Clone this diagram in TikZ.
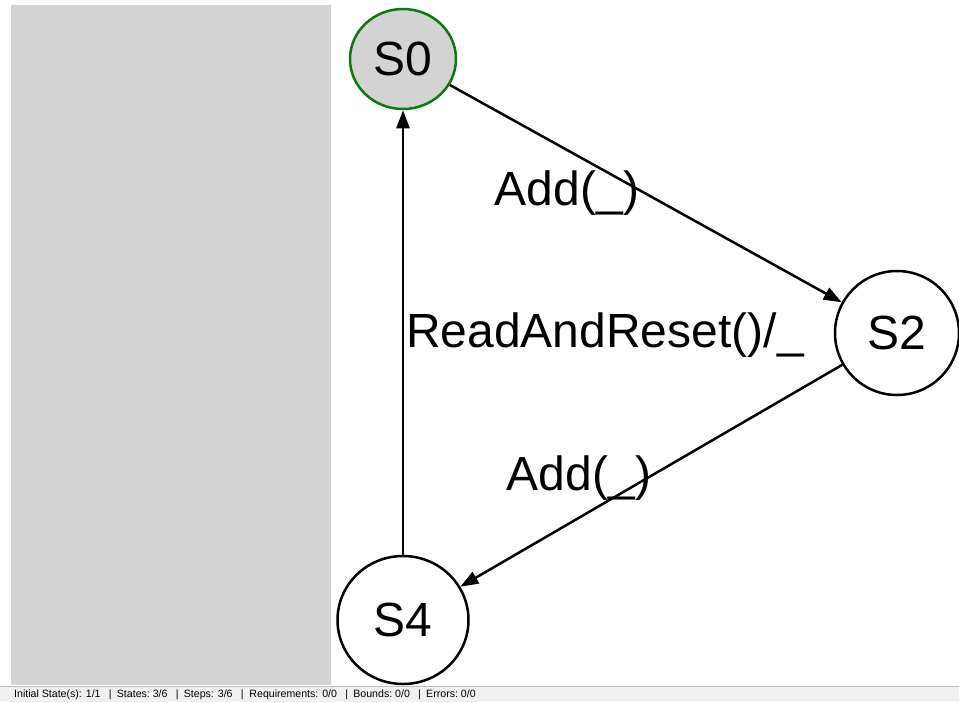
\documentclass[tikz,border=0pt]{standalone}
\usepackage{fontspec}
\setmainfont{Liberation Sans}
\usetikzlibrary{arrows.meta,shapes.geometric}
\definecolor{panelgray}{HTML}{D3D3D3}
\definecolor{statusbg}{HTML}{F0F0F0}
\definecolor{statusline}{HTML}{BEBEBE}
\definecolor{initgreen}{HTML}{0A7A0A}
\tikzset{
  state/.style={draw=black, line width=2.5pt, fill=white, ellipse, inner sep=0pt, font=\fontsize{48}{50}\selectfont},
  initstate/.style={state, fill=panelgray, draw=initgreen},
  trans/.style={line width=2.5pt, -{Triangle[length=18pt,width=13pt]}},
  elabel/.style={font=\fontsize{48}{50}\selectfont, inner sep=0pt},
  statustext/.style={font=\fontsize{10.6}{11}\selectfont, anchor=west, inner sep=0pt}
}
\begin{document}
\begin{tikzpicture}[x=1pt,y=-1pt]
  \useasboundingbox[fill=white] (0,0) rectangle (959,702);
  \fill[panelgray] (11,5) rectangle (331,685);
  \fill[statusbg] (0,686) rectangle (959,702);
  \draw[statusline, line width=1pt] (0,686) -- (959,686);
  \node[statustext] (status) at (14,695) {Initial State(s): 1/1 \enspace|\enspace States:\ 3/6 \enspace|\enspace Steps: 3/6 \enspace|\ \ Requirements: 0/0 \enspace|\enspace Bounds:\ 0/0 \enspace|\enspace Errors:\ 0/0};

  \node[initstate, minimum width=106pt, minimum height=100pt] (s0) at (403,59) {S0};
  \node[state, minimum width=124pt, minimum height=124pt] (s2) at (897,333) {S2};
  \node[state, minimum width=131pt, minimum height=128pt] (s4) at (403,620) {S4};

  \draw[trans] (s0) -- (s2);
  \draw[trans] (s2) -- (s4);
  \draw[trans] (s4) -- (s0);

  \node[elabel] (l1) at (567,193) {Add(\_)};
  \node[elabel] (l2) at (579,478) {Add(\_)};
  \node[elabel] (l3) at (605,335) {ReadAndReset()/\_};
\end{tikzpicture}
\end{document}
